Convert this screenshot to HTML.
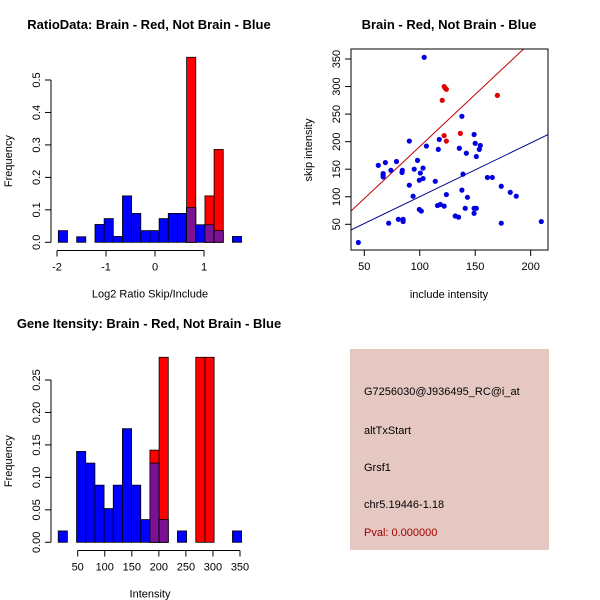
<!DOCTYPE html>
<html><head><meta charset="utf-8"><style>
body{margin:0;background:#fff}
svg{display:block;font-family:"Liberation Sans",sans-serif}
</style></head><body>
<svg id="chart" width="600" height="600" viewBox="0 0 600 600" xmlns="http://www.w3.org/2000/svg">
<rect width="600" height="600" fill="#fff"/>
<text x="149" y="29" text-anchor="middle" font-size="13" font-weight="bold">RatioData: Brain - Red, Not Brain - Blue</text>
<text x="449" y="29" text-anchor="middle" font-size="13" font-weight="bold">Brain - Red, Not Brain - Blue</text>
<text x="149" y="328" text-anchor="middle" font-size="13" font-weight="bold">Gene Itensity: Brain - Red, Not Brain - Blue</text>
<g id="g1"></g>
<g id="g2"></g>
<g id="g3"></g>
<g>
<rect x="350" y="349" width="199" height="201" fill="#e5c8c1"/>
<text x="364" y="395" font-size="11">G7256030@J936495_RC@i_at</text>
<text x="364" y="434" font-size="11">altTxStart</text>
<text x="364" y="471" font-size="11">Grsf1</text>
<text x="364" y="508" font-size="11">chr5.19446-1.18</text>
<text x="364" y="536" font-size="11" fill="#a00000">Pval: 0.000000</text>
</g>
</svg>
<script>
// Ratio histogram data
const ratioBinStart = -1.973, ratioBinWidth = 0.187;
const ratioBlue = [0.036,0,0.017,0,0.055,0.073,0.018,0.143,0.089,0.036,0.036,0.073,0.089,0.089,0.107,0.054,0.054,0.036,0,0.018];
const ratioRed  = [0,0,0,0,0,0,0,0,0,0,0,0,0,0,0.57,0,0.143,0.286,0,0];
const ratioYTicks = [0,0.1,0.2,0.3,0.4,0.5];
const ratioXTicks = [-2,-1,0,1];
// Intensity histogram data
const intBinStart = 14, intBinWidth = 16.95;
const intBlue = [0.0175,0,0.14,0.122,0.088,0.052,0.088,0.175,0.088,0.035,0.122,0.035,0,0.0175,0,0,0,0,0,0.0175];
const intRed  = [0,0,0,0,0,0,0,0,0,0,0.142,0.285,0,0,0,0.285,0.285,0,0,0];
const intYTicks = [0,0.05,0.10,0.15,0.20,0.25];
const intYLabels = ["0.00","0.05","0.10","0.15","0.20","0.25"];
const intXTicks = [50,100,150,200,250,300,350];
// Scatter data
const blueX = [104,44.6,62.6,69,67,67,67,74,79,84,84.3,90.6,90.6,94,95,98,100.5,99.6,103,103,106,99.6,101.4,72,80.7,85,85,114,116,118.5,122,116.7,117.6,124,132,135,135.7,138,139,138,142,143,141,149,150,149,151,149,151,154.6,153.7,161,165.4,173.5,173.5,181.6,187,209.6];
const blueY = [353,17,157,162,142,136,139,148,164,144,148,201,121,101,150,166,143,130,152,133,192,77,74,52,59,59,55,128,84,86,83,186,204,104,65,63,188,246,141,112,179,99,79,213,197,79,79,70,173,193,186,135,135,119,52,108,101,55];
const redX = [122,123,124,120.3,122,124,136.6,170];
const redY = [300,297,295,275,211,201,215,284];
const redFit = [2.2,1.89];   // intercept, slope
const blueFit = [2.7,0.974];
const scXTicks = [50,100,150,200];
const scYTicks = [50,100,150,200,250,300,350];

const NS="http://www.w3.org/2000/svg";
function mk(parent,tag,attrs){const e=document.createElementNS(NS,tag);for(const k in attrs)e.setAttribute(k,attrs[k]);parent.appendChild(e);return e;}

function hist(g,o){
  const X=v=>o.x0+(v-o.xv0)*o.xs, Y=v=>o.y0-v*o.ys;
  for(let i=0;i<o.blue.length;i++){
    const a=X(o.bs+i*o.bw), b=X(o.bs+(i+1)*o.bw);
    const bv=o.blue[i], rv=o.red[i];
    if(bv>0){const r=mk(g,'rect',{x:a,y:Y(bv),width:b-a,height:bv*o.ys,fill:'#0000ff',stroke:'#000','stroke-width':0.8});
      
      }
    if(rv>0){const r=mk(g,'rect',{x:a,y:Y(rv),width:b-a,height:rv*o.ys,fill:'#ff0000',stroke:'#000','stroke-width':0.8});
      
      }
    const m=Math.min(bv,rv);
    if(m>0){const r=mk(g,'rect',{x:a,y:Y(m),width:b-a,height:m*o.ys,fill:'#7b1296',stroke:'#000','stroke-width':0.8});
      
      }
  }
  mk(g,'line',{x1:o.yAxisX,x2:o.yAxisX,y1:Y(o.yt[0]),y2:Y(o.yt[o.yt.length-1]),stroke:'#000'});
  o.yt.forEach((t,i)=>{const y=Y(t);mk(g,'line',{x1:o.yAxisX-6,x2:o.yAxisX,y1:y,y2:y,stroke:'#000'});
    const tx=mk(g,'text',{x:o.yAxisX-11,y:y,'font-size':11,'text-anchor':'middle',transform:`rotate(-90 ${o.yAxisX-11} ${y})`});tx.textContent=o.yl[i];
    
    });
  mk(g,'line',{x1:X(o.xt[0]),x2:X(o.xt[o.xt.length-1]),y1:o.xAxisY,y2:o.xAxisY,stroke:'#000'});
  o.xt.forEach(t=>{const x=X(t);mk(g,'line',{x1:x,x2:x,y1:o.xAxisY,y2:o.xAxisY+6,stroke:'#000'});
    const tx=mk(g,'text',{x:x,y:o.xAxisY+20,'font-size':11,'text-anchor':'middle'});tx.textContent=String(t);
    
    });
  const xl=mk(g,'text',{x:150,y:o.xAxisY+47,'font-size':11,'text-anchor':'middle'});xl.textContent=o.xlab;
  
  
  const cy=(Y(o.yt[0])+Y(o.yt[o.yt.length-1]))/2;
  const yl=mk(g,'text',{x:12,y:cy,'font-size':11,'text-anchor':'middle',transform:`rotate(-90 12 ${cy})`});yl.textContent='Frequency';
  
  
}

hist(document.getElementById('g1'),{x0:57,xv0:-2,xs:49,y0:242.3,ys:324.6,bs:ratioBinStart,bw:ratioBinWidth,blue:ratioBlue,red:ratioRed,
  yt:ratioYTicks,yl:ratioYTicks.map(String).map(s=>s==='0'?'0.0':s),xt:ratioXTicks,yAxisX:51,xAxisY:250.5,xlab:'Log2 Ratio Skip/Include'});
hist(document.getElementById('g3'),{x0:77.7,xv0:50,xs:0.541,y0:542.3,ys:649.2,bs:intBinStart,bw:intBinWidth,blue:intBlue,red:intRed,
  yt:intYTicks,yl:intYLabels,xt:intXTicks,yAxisX:51,xAxisY:550.5,xlab:'Intensity'});

(function(){
  const g=document.getElementById('g2');
  const X=v=>364.3+(v-50)*1.109, Y=v=>224.3-(v-50)*0.551;
  const L=351,R=548,T=49,B=250;
  const cp=mk(g,'clipPath',{id:'scclip'});mk(cp,'rect',{x:L,y:T,width:R-L,height:B-T});
  [[redFit,'#c00000','red-fit-line'],[blueFit,'#00008b','blue-fit-line']].forEach(([f,c,n])=>{
    const xa=(L-364.3)/1.109+50, xb=(R-364.3)/1.109+50;
    const l=mk(g,'line',{x1:X(xa),y1:Y(f[0]+f[1]*xa),x2:X(xb),y2:Y(f[0]+f[1]*xb),stroke:c,'stroke-width':1,'clip-path':'url(#scclip)'});
    
    
  });
  blueX.forEach((x,i)=>{const c=mk(g,'circle',{cx:X(x),cy:Y(blueY[i]),r:2.6,fill:'#0000e0'});
    
    });
  redX.forEach((x,i)=>{const c=mk(g,'circle',{cx:X(x),cy:Y(redY[i]),r:2.6,fill:'#e00000'});
    
    });
  mk(g,'rect',{x:L,y:T,width:R-L,height:B-T,fill:'none',stroke:'#000'});
  scXTicks.forEach(t=>{const x=X(t);mk(g,'line',{x1:x,x2:x,y1:B,y2:B+6,stroke:'#000'});
    const tx=mk(g,'text',{x:x,y:B+20,'font-size':11,'text-anchor':'middle'});tx.textContent=String(t);
    
    });
  scYTicks.forEach(t=>{const y=Y(t);mk(g,'line',{x1:L-6,x2:L,y1:y,y2:y,stroke:'#000'});
    const tx=mk(g,'text',{x:L-11,y:y,'font-size':11,'text-anchor':'middle',transform:`rotate(-90 ${L-11} ${y})`});tx.textContent=String(t);
    
    });
  const xl=mk(g,'text',{x:449,y:298,'font-size':11,'text-anchor':'middle'});xl.textContent='include intensity';
  
  
  const yl=mk(g,'text',{x:312,y:150,'font-size':11,'text-anchor':'middle',transform:'rotate(-90 312 150)'});yl.textContent='skip intensity';
  
  
})();
</script>
</body></html>
